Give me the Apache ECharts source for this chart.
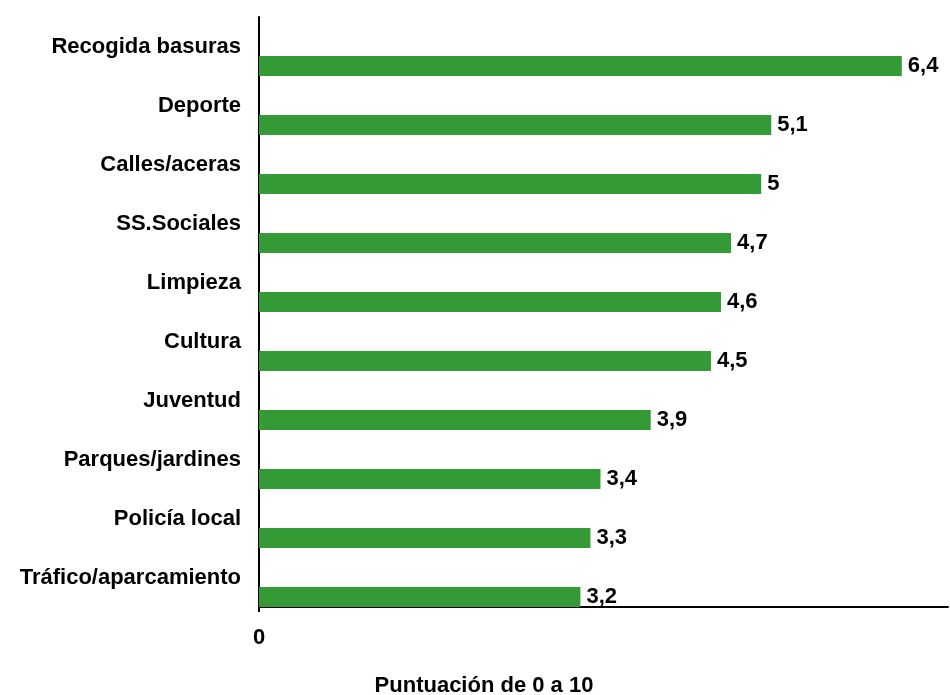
<!DOCTYPE html>
<html>
<head>
<meta charset="utf-8">
<script src="https://cdn.jsdelivr.net/npm/echarts@6/dist/echarts.min.js"></script>
<style>html,body{margin:0;padding:0;background:#fff;}#c{width:950px;height:695px;}</style>
</head>
<body>
<div id="c"></div>
<script>
var categories = ['Recogida basuras','Deporte','Calles/aceras','SS.Sociales','Limpieza','Cultura','Juventud','Parques/jardines','Policía local','Tráfico/aparcamiento'];
var values = [6.4, 5.1, 5, 4.7, 4.6, 4.5, 3.9, 3.4, 3.3, 3.2];
var axisTitle = 'Puntuación de 0 a 10';

var chart = echarts.init(document.getElementById('c'), null, {renderer: 'canvas'});
var font = 'Liberation Sans, Arial, sans-serif';
chart.setOption({
  animation: false,
  backgroundColor: '#fff',
  title: {
    text: axisTitle,
    left: 484, top: 675, textAlign: 'center', padding: 0,
    textStyle: {fontFamily: font, fontSize: 22, fontWeight: 'bold', color: '#000'}
  },
  grid: {left: 259, right: 2, top: 17, bottom: 88, containLabel: false},
  xAxis: {
    type: 'value', min: 0, max: 6.86, interval: 10,
    axisLine: {show: true, lineStyle: {color: '#000', width: 2}},
    axisTick: {show: true, length: 5, lineStyle: {color: '#000', width: 2}},
    splitLine: {show: false},
    axisLabel: {
      showMaxLabel: false, margin: 20,
      fontFamily: font, fontSize: 22, fontWeight: 'bold', color: '#000',
      formatter: function (v) { return v === 0 ? '0' : ''; }
    }
  },
  yAxis: {
    type: 'category', data: categories, inverse: true,
    axisLine: {show: true, lineStyle: {color: '#000', width: 2}},
    axisTick: {show: false},
    axisLabel: {margin: 18, fontFamily: font, fontSize: 22, fontWeight: 'bold', color: '#000', padding: [0, 0, 1, 0]}
  },
  series: [
    {type: 'bar', name: 'pad', data: values.map(function(){return '-';}), barWidth: 20, barGap: '95%', silent: true},
    {
      type: 'bar', name: 'Puntuación', data: values, barWidth: 20, barGap: '95%',
      itemStyle: {color: '#349a35'},
      label: {
        show: true, position: 'right', distance: 6, offset: [0, 0],
        fontFamily: font, fontSize: 22, fontWeight: 'bold', color: '#000',
        formatter: function (p) { return String(p.value).replace('.', ','); }
      }
    }
  ]
});
</script>
</body>
</html>
